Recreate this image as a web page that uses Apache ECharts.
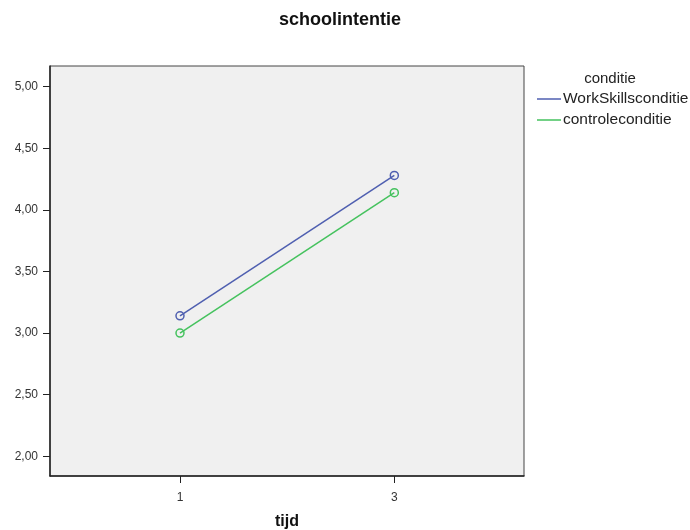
<!DOCTYPE html>
<html>
<head>
<meta charset="utf-8">
<script src="https://cdn.jsdelivr.net/npm/echarts@6/dist/echarts.min.js"></script>
<style>
  html, body { margin: 0; padding: 0; background: #fff; }
  #chart { width: 690px; height: 530px; }
</style>
</head>
<body>
<div id="chart"></div>
<script>
// tijd (x) en gemiddelde schoolintentie per conditie
var tijd = [1, 3];
var workSkills = [3.14, 4.28];
var controle = [3.00, 4.14];
var yTicks = [2, 2.5, 3, 3.5, 4, 4.5, 5];
var xTicks = [1, 3];

var blauw = '#4f5fb0';
var groen = '#45c25e';
var font = 'Liberation Sans, Arial';

function pairs(xs, ys) {
  return xs.map(function (x, i) { return [x, ys[i]]; });
}

var chart = echarts.init(document.getElementById('chart'));
chart.setOption({
  animation: false,
  backgroundColor: '#fff',
  title: [
    {
      text: 'schoolintentie',
      left: 335, top: 6, textAlign: 'center',
      textStyle: { fontFamily: font, fontSize: 18, fontWeight: 'bold', color: '#111' }
    },
    {
      text: 'conditie',
      left: 605, top: 66, textAlign: 'center',
      textStyle: { fontFamily: font, fontSize: 15, fontWeight: 'normal', color: '#222' }
    }
  ],
  legend: {
    orient: 'vertical',
    left: 532, top: 86,
    itemWidth: 24, itemHeight: 1.5,
    itemGap: 5,
    textStyle: { fontFamily: font, fontSize: 15.5, color: '#222', padding: [0, 0, 0, -3] },
    data: [
      { name: 'WorkSkillsconditie', icon: 'rect', itemStyle: { color: blauw, borderWidth: 0 } },
      { name: 'controleconditie', icon: 'rect', itemStyle: { color: groen, borderWidth: 0 } }
    ]
  },
  grid: {
    left: 50, right: 166, top: 66, bottom: 54,
    outerBoundsMode: 'none',
    show: true, backgroundColor: '#f0f0f0', borderColor: '#444', borderWidth: 1
  },
  xAxis: {
    type: 'value',
    min: -0.213, max: 4.21,
    name: 'tijd', nameLocation: 'middle', nameGap: 38,
    nameTextStyle: { fontFamily: font, fontSize: 16, fontWeight: 'bold', color: '#111' },
    splitLine: { show: false },
    axisLine: { onZero: false, lineStyle: { color: '#222', width: 1.5 } },
    axisTick: { length: 7, customValues: xTicks, lineStyle: { color: '#222' } },
    axisLabel: {
      customValues: xTicks, margin: 16,
      fontFamily: font, fontSize: 12, color: '#333'
    }
  },
  yAxis: {
    type: 'value',
    min: 1.84, max: 5.168,
    splitLine: { show: false },
    axisLine: { show: true, onZero: false, lineStyle: { color: '#222', width: 1.5 } },
    axisTick: { show: true, length: 7, customValues: yTicks, lineStyle: { color: '#222' } },
    axisLabel: {
      customValues: yTicks, margin: 12,
      fontFamily: font, fontSize: 12, color: '#333',
      formatter: function (v) { return v.toFixed(2).replace('.', ','); }
    }
  },
  series: [
    {
      name: 'WorkSkillsconditie',
      type: 'line',
      data: pairs(tijd, workSkills),
      symbol: 'circle', symbolSize: 8,
      lineStyle: { color: blauw, width: 1.5 },
      itemStyle: { color: 'rgba(0,0,0,0)', borderColor: blauw, borderWidth: 1.5 }
    },
    {
      name: 'controleconditie',
      type: 'line',
      data: pairs(tijd, controle),
      symbol: 'circle', symbolSize: 8,
      lineStyle: { color: groen, width: 1.5 },
      itemStyle: { color: 'rgba(0,0,0,0)', borderColor: groen, borderWidth: 1.5 }
    }
  ]
});
</script>
</body>
</html>
